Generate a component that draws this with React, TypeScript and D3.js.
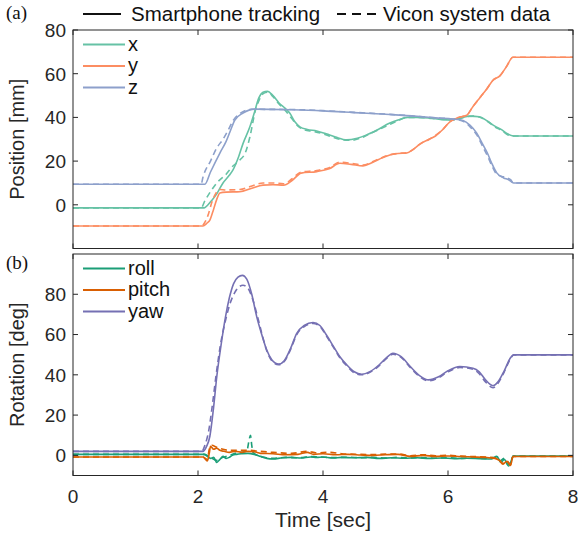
import React from "react";
import * as d3 from "d3";

type P = [number, number];

// Panel (a) position data [time sec, mm]
const xTrack: P[] = [[0,-1.4],[2.1,-1.4],[2.16,0],[2.22,2],[2.3,5],[2.4,10],[2.5,13.5],[2.56,16],[2.65,22],[2.72,28],[2.83,35.7],[2.9,42],[2.97,48.7],[3.04,51.5],[3.11,52],[3.2,50],[3.3,46.5],[3.4,44],[3.47,41.9],[3.55,38],[3.63,35.7],[3.75,34.5],[3.9,33.8],[4.05,32.5],[4.2,31],[4.38,29.7],[4.55,30.5],[4.7,32],[4.85,34],[5.07,37.4],[5.2,38.8],[5.35,40],[5.5,40],[5.7,39.7],[5.9,39],[6.05,38.8],[6.2,39.8],[6.35,40.6],[6.5,40.3],[6.62,38.5],[6.75,36],[6.85,34.5],[6.95,32.5],[7.05,31.5],[8,31.5]];
const xVicon: P[] = [[0,-1.4],[2.05,-1.4],[2.11,1.8],[2.2,6],[2.3,10],[2.45,14],[2.55,17.5],[2.67,20.5],[2.76,24],[2.83,31],[2.92,43.4],[2.98,48],[3.05,51],[3.12,51.5],[3.2,49.5],[3.3,46],[3.4,43],[3.5,39.5],[3.6,36],[3.7,34.3],[3.85,33.6],[4.0,32.5],[4.15,31],[4.3,29.8],[4.45,29.5],[4.6,30.5],[4.75,32.5],[4.9,34.5],[5.05,36.5],[5.2,38.5],[5.35,40],[5.55,40],[5.75,39.5],[5.95,39],[6.1,38.8],[6.25,40],[6.4,40.6],[6.52,40],[6.64,38],[6.76,35.5],[6.86,34],[6.96,32],[7.05,31.5],[8,31.5]];
const yTrack: P[] = [[0,-9.7],[2.08,-9.7],[2.14,-8.5],[2.19,-7],[2.25,-2],[2.3,2.5],[2.35,5.4],[2.45,5.8],[2.67,6],[2.85,7.5],[3.04,9],[3.2,9.2],[3.37,9],[3.5,11],[3.65,14.5],[3.9,15.2],[4.1,16.5],[4.27,19],[4.45,18.5],[4.64,17.8],[4.8,19.5],[4.95,21.5],[5.07,22.8],[5.2,23.5],[5.34,23.7],[5.45,25.5],[5.55,27.8],[5.7,30],[5.8,31.5],[5.9,34],[6.03,38],[6.15,39.8],[6.3,41],[6.4,45],[6.51,49],[6.62,53],[6.72,57],[6.83,59],[6.93,63],[7.04,67.5],[8,67.5]];
const yVicon: P[] = [[0,-9.7],[2.06,-9.7],[2.12,-7.5],[2.17,-4],[2.22,1],[2.28,5],[2.35,7],[2.45,6.8],[2.67,7],[2.85,8.5],[3.04,10],[3.2,10],[3.37,9.6],[3.5,11.8],[3.65,15],[3.9,15.7],[4.1,17],[4.27,19.5],[4.45,19],[4.64,18.2],[4.8,19.8],[4.95,21.7],[5.07,22.9],[5.2,23.5],[5.34,23.8],[5.45,25.5],[5.55,27.8],[5.7,30],[5.8,31.8],[5.9,34],[6.03,38],[6.15,39.8],[6.3,41],[6.4,45],[6.51,49],[6.62,53],[6.72,57],[6.83,59],[6.93,63],[7.04,67.5],[8,67.5]];
const zTrack: P[] = [[0,9.4],[2.11,9.4],[2.2,15],[2.35,23.7],[2.45,29],[2.52,34],[2.59,38.8],[2.72,42],[2.91,43.8],[3.5,43.5],[4.0,43],[4.5,42.2],[5.07,41.3],[5.5,40.5],[5.8,39.8],[6.08,39.3],[6.24,38.6],[6.35,36.5],[6.46,32.8],[6.55,28],[6.63,23.7],[6.7,19],[6.78,14.6],[6.89,12.3],[6.97,11.5],[7.05,10],[8,10]];
const zVicon: P[] = [[0,9.4],[2.05,9.4],[2.08,12.7],[2.2,20],[2.3,26],[2.4,30],[2.48,34],[2.56,38.5],[2.68,42],[2.85,43.7],[3.5,43.6],[4.0,43.1],[4.5,42.3],[5.07,41.4],[5.5,40.5],[5.8,39.8],[6.08,39.2],[6.24,38.2],[6.35,35.8],[6.46,32],[6.55,27],[6.63,22.5],[6.7,18],[6.78,14],[6.86,13],[6.93,12.5],[7.0,11.5],[7.05,10],[8,10]];

// Panel (b) rotation data [time sec, deg]
const rollTrack: P[] = [[0,0.5],[2.1,0.5],[2.15,-0.5],[2.2,-1.5],[2.25,-1],[2.3,-3.5],[2.35,-2],[2.4,-0.5],[2.45,-1.5],[2.5,-1],[2.55,0],[2.62,0.5],[2.7,0.8],[2.8,1],[2.9,0.5],[3.0,-0.5],[3.1,-1.5],[3.2,-1.8],[3.35,-1.2],[3.5,-1],[3.65,-1.3],[3.8,-0.8],[3.9,-1],[4.0,-0.8],[4.15,-1.3],[4.3,-1],[4.5,-1.2],[4.7,-1],[4.9,-1.5],[5.1,-1.2],[5.3,-1.4],[5.5,-1.2],[5.7,-1.5],[5.9,-1.3],[6.1,-1.6],[6.3,-1.4],[6.5,-1.6],[6.7,-1.8],[6.78,-0.5],[6.85,-3.5],[6.9,-2],[6.97,-5.3],[7.02,-2],[7.04,-0.3],[8,-0.3]];
const rollVicon: P[] = [[0,0.5],[2.1,0.5],[2.2,-1],[2.3,-2.5],[2.4,-1],[2.5,0],[2.6,1],[2.7,1.5],[2.78,2],[2.82,8],[2.84,10],[2.86,5],[2.88,1.5],[2.95,0],[3.05,-1],[3.2,-1.5],[3.4,-1],[3.6,-1.2],[3.8,-0.6],[4.0,-0.9],[4.2,-1.1],[4.4,-0.9],[4.6,-1.2],[4.8,-1],[5.0,-1.3],[5.2,-1],[5.4,-1.3],[5.6,-1.1],[5.8,-1.4],[6.0,-1.2],[6.2,-1.5],[6.4,-1.3],[6.6,-1.6],[6.75,-1],[6.82,-3],[6.9,-1.5],[6.96,-4.5],[7.02,-2],[7.04,-0.3],[8,-0.3]];
const pitchTrack: P[] = [[0,-0.8],[2.08,-0.8],[2.12,-2],[2.15,-2.8],[2.18,1],[2.2,4.5],[2.25,3],[2.3,3.5],[2.35,2.5],[2.42,2],[2.5,1.5],[2.6,2],[2.7,1.5],[2.8,2],[2.9,1.8],[3.0,1],[3.2,0.8],[3.4,0.3],[3.6,0.5],[3.75,1.5],[3.85,0.5],[4.0,0.8],[4.2,0.3],[4.4,0.5],[4.6,0.2],[4.8,0],[5.0,0.3],[5.2,0.5],[5.4,-0.5],[5.6,0],[5.8,-0.5],[6.0,-0.3],[6.2,-0.6],[6.4,-0.8],[6.6,-1],[6.75,-1.5],[6.82,-2.5],[6.88,-4.4],[6.94,-3],[7.0,-5],[7.04,-0.6],[8,-0.6]];
const pitchVicon: P[] = [[0,-0.8],[2.08,-0.8],[2.12,-1.5],[2.15,-2],[2.18,3],[2.22,5],[2.3,4],[2.4,3],[2.5,2.5],[2.6,2.5],[2.8,2.5],[3.0,2],[3.2,1.5],[3.5,1],[3.75,2],[3.9,1.2],[4.1,1.5],[4.3,0.8],[4.6,0.5],[4.8,0.4],[5.0,0.6],[5.2,0.7],[5.4,-0.2],[5.6,0.3],[5.8,-0.2],[6.0,0],[6.2,-0.4],[6.4,-0.6],[6.6,-0.8],[6.75,-1.3],[6.82,-2.2],[6.88,-4],[6.94,-2.8],[7.0,-4.5],[7.04,-0.6],[8,-0.6]];
const yawTrack: P[] = [[0,2],[2.08,2],[2.13,4],[2.19,9.5],[2.25,24],[2.3,39],[2.37,55],[2.44,68.8],[2.5,78],[2.57,85.3],[2.64,88.5],[2.71,89.4],[2.78,87.5],[2.86,80],[2.94,68.8],[3.02,60],[3.1,52.3],[3.18,47.5],[3.29,45.3],[3.38,47],[3.48,53],[3.58,60.6],[3.7,64.5],[3.84,66],[3.95,64.5],[4.05,60],[4.17,54],[4.27,49],[4.38,45],[4.5,41.5],[4.62,40.3],[4.75,41.6],[4.9,45],[5.0,48],[5.12,50.7],[5.25,49],[5.4,44],[5.55,39.5],[5.69,37.5],[5.85,39],[6.0,42],[6.19,44.1],[6.4,43.3],[6.5,41.5],[6.6,37.5],[6.72,34.6],[6.8,36.5],[6.9,42],[7.0,48.5],[7.05,49.9],[8,49.9]];
const yawVicon: P[] = [[0,2],[2.06,2],[2.11,5],[2.17,12],[2.23,25],[2.29,40],[2.36,55],[2.44,67],[2.52,76],[2.6,81.5],[2.67,84],[2.72,84.5],[2.8,83],[2.88,77],[2.96,68],[3.03,59.5],[3.1,52],[3.18,47],[3.29,45],[3.38,46.6],[3.48,52.5],[3.58,60],[3.7,64],[3.84,65.5],[3.95,64],[4.05,59.5],[4.17,53.5],[4.27,48.5],[4.38,44.5],[4.5,41],[4.62,40],[4.75,41.2],[4.9,44.6],[5.0,47.6],[5.12,50.3],[5.25,48.7],[5.4,43.5],[5.55,39],[5.69,37],[5.85,38.5],[6.0,41.5],[6.19,43.6],[6.4,42.8],[6.5,40.5],[6.6,36.5],[6.72,33.6],[6.8,35.8],[6.9,41.5],[7.0,48],[7.05,49.9],[8,49.9]];

const xTicks = [0, 2, 4, 6, 8];
const posTicks = [0, 20, 40, 60, 80];
const rotTicks = [0, 20, 40, 60, 80];
const posNames = ["x", "y", "z"];
const rotNames = ["roll", "pitch", "yaw"];
const posColors = ["#66c2a5", "#fc8d62", "#8da0cb"];
const rotColors = ["#1b9e77", "#d95f02", "#7570b3"];

const W = 578, H = 536;
const L = 73, R = 573;
const A = { top: 30, bottom: 248.5 };
const B = { top: 254, bottom: 475.5 };
const SANS = "'Liberation Sans', Arial, Helvetica, sans-serif";
const AX = "#262626";

const x = d3.scaleLinear().domain([0, 8]).range([L, R]);
const yA = d3.scaleLinear().domain([-20, 80]).range([A.bottom, A.top]);
const yB = d3.scaleLinear().domain([-10, 100]).range([B.bottom, B.top]);

function Panel({ y, box, ticks, series, names, colors, label, tag, showX }: any) {
  const line = d3.line<P>().x(d => x(d[0])).y(d => y(d[1])).curve(d3.curveMonotoneX);
  const cy = (box.top + box.bottom) / 2;
  const legTop = box.top + 14.5;
  return (
    <g>
      <defs>
        <clipPath id={"clip" + tag}>
          <rect x={L} y={box.top} width={R - L} height={box.bottom - box.top} />
        </clipPath>
      </defs>
      <g clipPath={`url(#clip${tag})`}>
        {series.map((s: P[][], i: number) => (
          <g key={i}>
            <path d={line(s[1]) || ""} fill="none" stroke={colors[i]} strokeWidth={1.6} strokeDasharray="6,4" />
            <path d={line(s[0]) || ""} fill="none" stroke={colors[i]} strokeWidth={1.6} />
          </g>
        ))}
      </g>
      <rect x={L} y={box.top} width={R - L} height={box.bottom - box.top} fill="none" stroke={AX} strokeWidth={1} />
      {xTicks.map(t => (
        <g key={"xt" + t}>
          <line x1={x(t)} x2={x(t)} y1={box.bottom} y2={box.bottom - 5} stroke={AX} />
          <line x1={x(t)} x2={x(t)} y1={box.top} y2={box.top + 5} stroke={AX} />
          {showX && (
            <text x={x(t)} y={box.bottom + 27} textAnchor="middle" fontSize={19} fontFamily={SANS} fill={AX}>{t}</text>
          )}
        </g>
      ))}
      {ticks.map((t: number) => (
        <g key={"yt" + t}>
          <line x1={L} x2={L + 5} y1={y(t)} y2={y(t)} stroke={AX} />
          <line x1={R} x2={R - 5} y1={y(t)} y2={y(t)} stroke={AX} />
          <text x={L - 7} y={y(t)} dy="0.36em" textAnchor="end" fontSize={19} fontFamily={SANS} fill={AX}>{t}</text>
        </g>
      ))}
      <text transform={`translate(24,${cy}) rotate(-90)`} textAnchor="middle" fontSize={20} fontFamily={SANS} fill={AX}>{label}</text>
      {names.map((n: string, i: number) => (
        <g key={n}>
          <line x1={83} x2={125} y1={legTop + i * 21.5} y2={legTop + i * 21.5} stroke={colors[i]} strokeWidth={2} />
          <text x={128} y={legTop + i * 21.5} dy="0.3em" fontSize={20} fontFamily={SANS} fill="#111">{n}</text>
        </g>
      ))}
    </g>
  );
}

export default function App() {
  return (
    <svg width={W} height={H} style={{ position: "absolute", left: 0, top: 0, background: "#fff" }}>
      <rect width={W} height={H} fill="#fff" />
      <text x={6} y={19} fontSize={19} fontFamily="'Liberation Serif', 'Times New Roman', serif" fill="#111">(a)</text>
      <text x={6} y={269} fontSize={19} fontFamily="'Liberation Serif', 'Times New Roman', serif" fill="#111">(b)</text>
      <line x1={83} x2={121} y1={14} y2={14} stroke="#111" strokeWidth={2.2} />
      <text x={131} y={21} fontSize={20.5} fontFamily={SANS} fill="#111">Smartphone tracking</text>
      <line x1={337} x2={376} y1={14} y2={14} stroke="#111" strokeWidth={2.2} strokeDasharray="9,6" />
      <text x={383} y={21} fontSize={20.5} fontFamily={SANS} fill="#111">Vicon system data</text>
      <Panel y={yA} box={A} ticks={posTicks} tag="a" label="Position [mm]" names={posNames} colors={posColors}
        series={[[xTrack, xVicon], [yTrack, yVicon], [zTrack, zVicon]]} showX={false} />
      <Panel y={yB} box={B} ticks={rotTicks} tag="b" label="Rotation [deg]" names={rotNames} colors={rotColors}
        series={[[rollTrack, rollVicon], [pitchTrack, pitchVicon], [yawTrack, yawVicon]]} showX={true} />
      <text x={323} y={527} textAnchor="middle" fontSize={21} fontFamily={SANS} fill={AX}>Time [sec]</text>
    </svg>
  );
}
